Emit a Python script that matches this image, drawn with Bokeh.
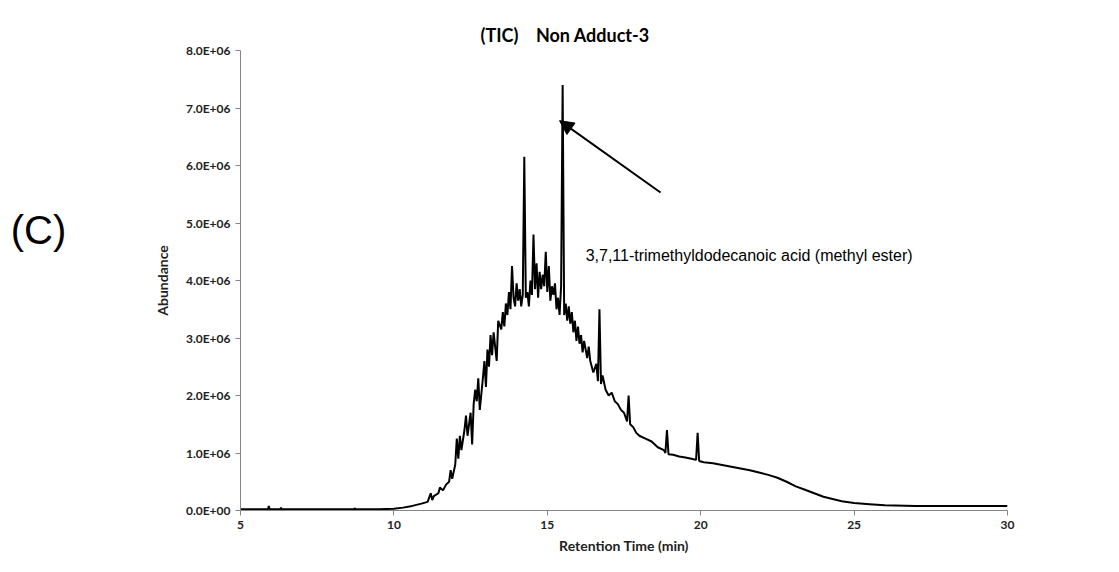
from bokeh.plotting import figure
from bokeh.layouts import row
from bokeh.models import Label, Arrow, NormalHead, CustomJSTickFormatter, FixedTicker, Range1d
from bokeh.core.properties import value
from bokeh.embed import file_html
from bokeh.resources import INLINE

time_min = [5.0, 5.5, 5.9, 5.92, 5.95, 6.3, 6.32, 6.35, 7.0, 8.0, 8.7, 8.72, 8.75, 9.5, 10.0, 10.3, 10.6, 10.9, 11.1, 11.2, 11.25, 11.3, 11.45, 11.5, 11.6, 11.7, 11.8, 11.85, 11.9, 12.0, 12.05, 12.1, 12.15, 12.2, 12.3, 12.35, 12.4, 12.5, 12.55, 12.6, 12.65, 12.7, 12.75, 12.8, 12.9, 12.95, 13.0, 13.05, 13.1, 13.15, 13.2, 13.25, 13.3, 13.35, 13.4, 13.5, 13.55, 13.6, 13.65, 13.7, 13.75, 13.8, 13.85, 13.9, 13.95, 14.0, 14.05, 14.1, 14.15, 14.2, 14.25, 14.3, 14.35, 14.4, 14.45, 14.5, 14.55, 14.6, 14.65, 14.7, 14.75, 14.8, 14.85, 14.9, 14.95, 15.0, 15.05, 15.1, 15.15, 15.2, 15.25, 15.3, 15.35, 15.4, 15.45, 15.5, 15.55, 15.6, 15.65, 15.7, 15.75, 15.8, 15.85, 15.9, 15.95, 16.0, 16.05, 16.1, 16.15, 16.2, 16.3, 16.35, 16.4, 16.5, 16.6, 16.65, 16.7, 16.75, 16.8, 16.9, 17.0, 17.1, 17.2, 17.3, 17.4, 17.5, 17.6, 17.65, 17.7, 17.8, 17.9, 18.0, 18.2, 18.4, 18.6, 18.8, 18.85, 18.9, 18.95, 19.1, 19.3, 19.5, 19.7, 19.85, 19.9, 19.95, 20.1, 20.4, 20.7, 21.0, 21.3, 21.6, 21.9, 22.2, 22.5, 22.8, 23.1, 23.4, 23.7, 24.0, 24.3, 24.6, 25.0, 25.5, 26.0, 27.0, 28.0, 29.0, 30.0]
abundance_m = [0.02, 0.02, 0.02, 0.08, 0.02, 0.02, 0.05, 0.02, 0.02, 0.02, 0.02, 0.04, 0.02, 0.02, 0.03, 0.05, 0.08, 0.12, 0.15, 0.3, 0.18, 0.25, 0.3, 0.4, 0.35, 0.45, 0.5, 0.7, 0.55, 0.8, 1.25, 0.9, 1.3, 1.05, 1.4, 1.65, 1.3, 1.7, 1.15, 1.85, 2.1, 1.9, 2.3, 1.75, 2.3, 2.6, 2.15, 2.8, 2.5, 3.05, 2.7, 3.1, 2.85, 2.6, 3.3, 3.15, 3.45, 3.2, 3.6, 3.4, 3.8, 3.5, 4.25, 3.7, 3.55, 3.95, 3.65, 3.85, 3.55, 3.75, 6.15, 3.7, 3.8, 3.55, 4.0, 3.75, 4.8, 3.85, 4.3, 3.7, 4.15, 3.85, 4.1, 3.9, 4.5, 3.8, 4.25, 3.65, 3.9, 3.75, 3.95, 3.5, 3.7, 3.4, 3.9, 7.4, 3.4, 3.6, 3.3, 3.55, 3.25, 3.45, 3.1, 3.3, 2.95, 3.2, 2.9, 3.05, 2.75, 2.95, 2.65, 2.85, 2.6, 2.4, 2.55, 2.25, 3.5, 2.2, 2.35, 2.1, 2.0, 2.05, 1.9, 1.85, 1.75, 1.7, 1.55, 2.0, 1.5, 1.45, 1.35, 1.3, 1.25, 1.2, 1.1, 1.05, 1.0, 1.4, 0.98, 0.97, 0.94, 0.92, 0.9, 0.88, 1.35, 0.86, 0.84, 0.82, 0.79, 0.76, 0.73, 0.7, 0.66, 0.62, 0.57, 0.5, 0.42, 0.36, 0.3, 0.24, 0.2, 0.16, 0.13, 0.11, 0.09, 0.08, 0.08, 0.08, 0.08]

x_ticks = [5, 10, 15, 20, 25, 30]
y_ticks = [0, 1e6, 2e6, 3e6, 4e6, 5e6, 6e6, 7e6, 8e6]
abundance = [v * 1e6 for v in abundance_m]

# panel letter
pc = figure(width=80, height=556, output_backend="svg", toolbar_location=None,
            x_range=Range1d(0, 80), y_range=Range1d(0, 556), min_border=0)
pc.axis.visible = False
pc.grid.visible = False
pc.outline_line_color = None
pc.text(x=[38], y=[339], text=["(C)"], text_align="center", text_baseline="middle",
        text_font=value("Liberation Sans"), text_font_size="40px", text_color="black")

p = figure(width=1020, height=556, output_backend="svg", toolbar_location=None,
           x_range=Range1d(5, 30), y_range=Range1d(0, 8e6),
           min_border_left=160, min_border_right=93, min_border_top=50, min_border_bottom=46)
p.outline_line_color = None
p.grid.visible = False
p.line(time_min, abundance, line_color="black", line_width=2)

p.title.text = "(TIC)\u00a0\u00a0\u00a0\u00a0Non Adduct-3"
p.title.align = "left"
p.title.offset = 240
p.title.text_font = "Lato"
p.title.text_font_style = "bold"
p.title.text_font_size = "18px"
p.title.text_color = "black"

fmt = CustomJSTickFormatter(code="""
if (tick == 0) return '0.0E+00';
const s = tick.toExponential(1).split('e');
let e = parseInt(s[1]); const sign = e < 0 ? '-' : '+'; e = Math.abs(e);
return s[0] + 'E' + sign + (e < 10 ? '0' + e : '' + e);
""")
p.yaxis.formatter = fmt
p.yaxis.ticker = FixedTicker(ticks=y_ticks)
p.xaxis.ticker = FixedTicker(ticks=x_ticks)
for ax in (p.xaxis, p.yaxis):
    ax.axis_line_color = "#868686"
    ax.major_tick_line_color = "#868686"
    ax.minor_tick_line_color = None
    ax.major_tick_in = 0
    ax.major_tick_out = 5
    ax.major_label_text_font = "Lato"
    ax.major_label_text_font_style = "bold"
    ax.major_label_text_font_size = "12px"
    ax.major_label_text_color = "#222222"
    ax.axis_label_text_font = "Lato"
    ax.axis_label_text_font_style = "bold"
    ax.axis_label_text_font_size = "14px"
    ax.axis_label_text_color = "#222222"
p.xaxis.axis_label = "Retention Time (min)"
p.yaxis.axis_label = "Abundance"
p.yaxis.axis_label_standoff = 12

p.add_layout(Label(x=16.25, y=4.43e6, text="3,7,11-trimethyldodecanoic acid (methyl ester)", text_baseline="middle",
                   text_font="Liberation Sans", text_font_size="16px", text_color="black"))
p.add_layout(Arrow(x_start=18.69, y_start=5.53e6, x_end=15.4, y_end=6.78e6, line_width=2, line_color="black",
                   end=NormalHead(size=14, fill_color="black", line_color="black")))

layout = row(pc, p, spacing=0)
open("out.html", "w").write(file_html(layout, INLINE))
